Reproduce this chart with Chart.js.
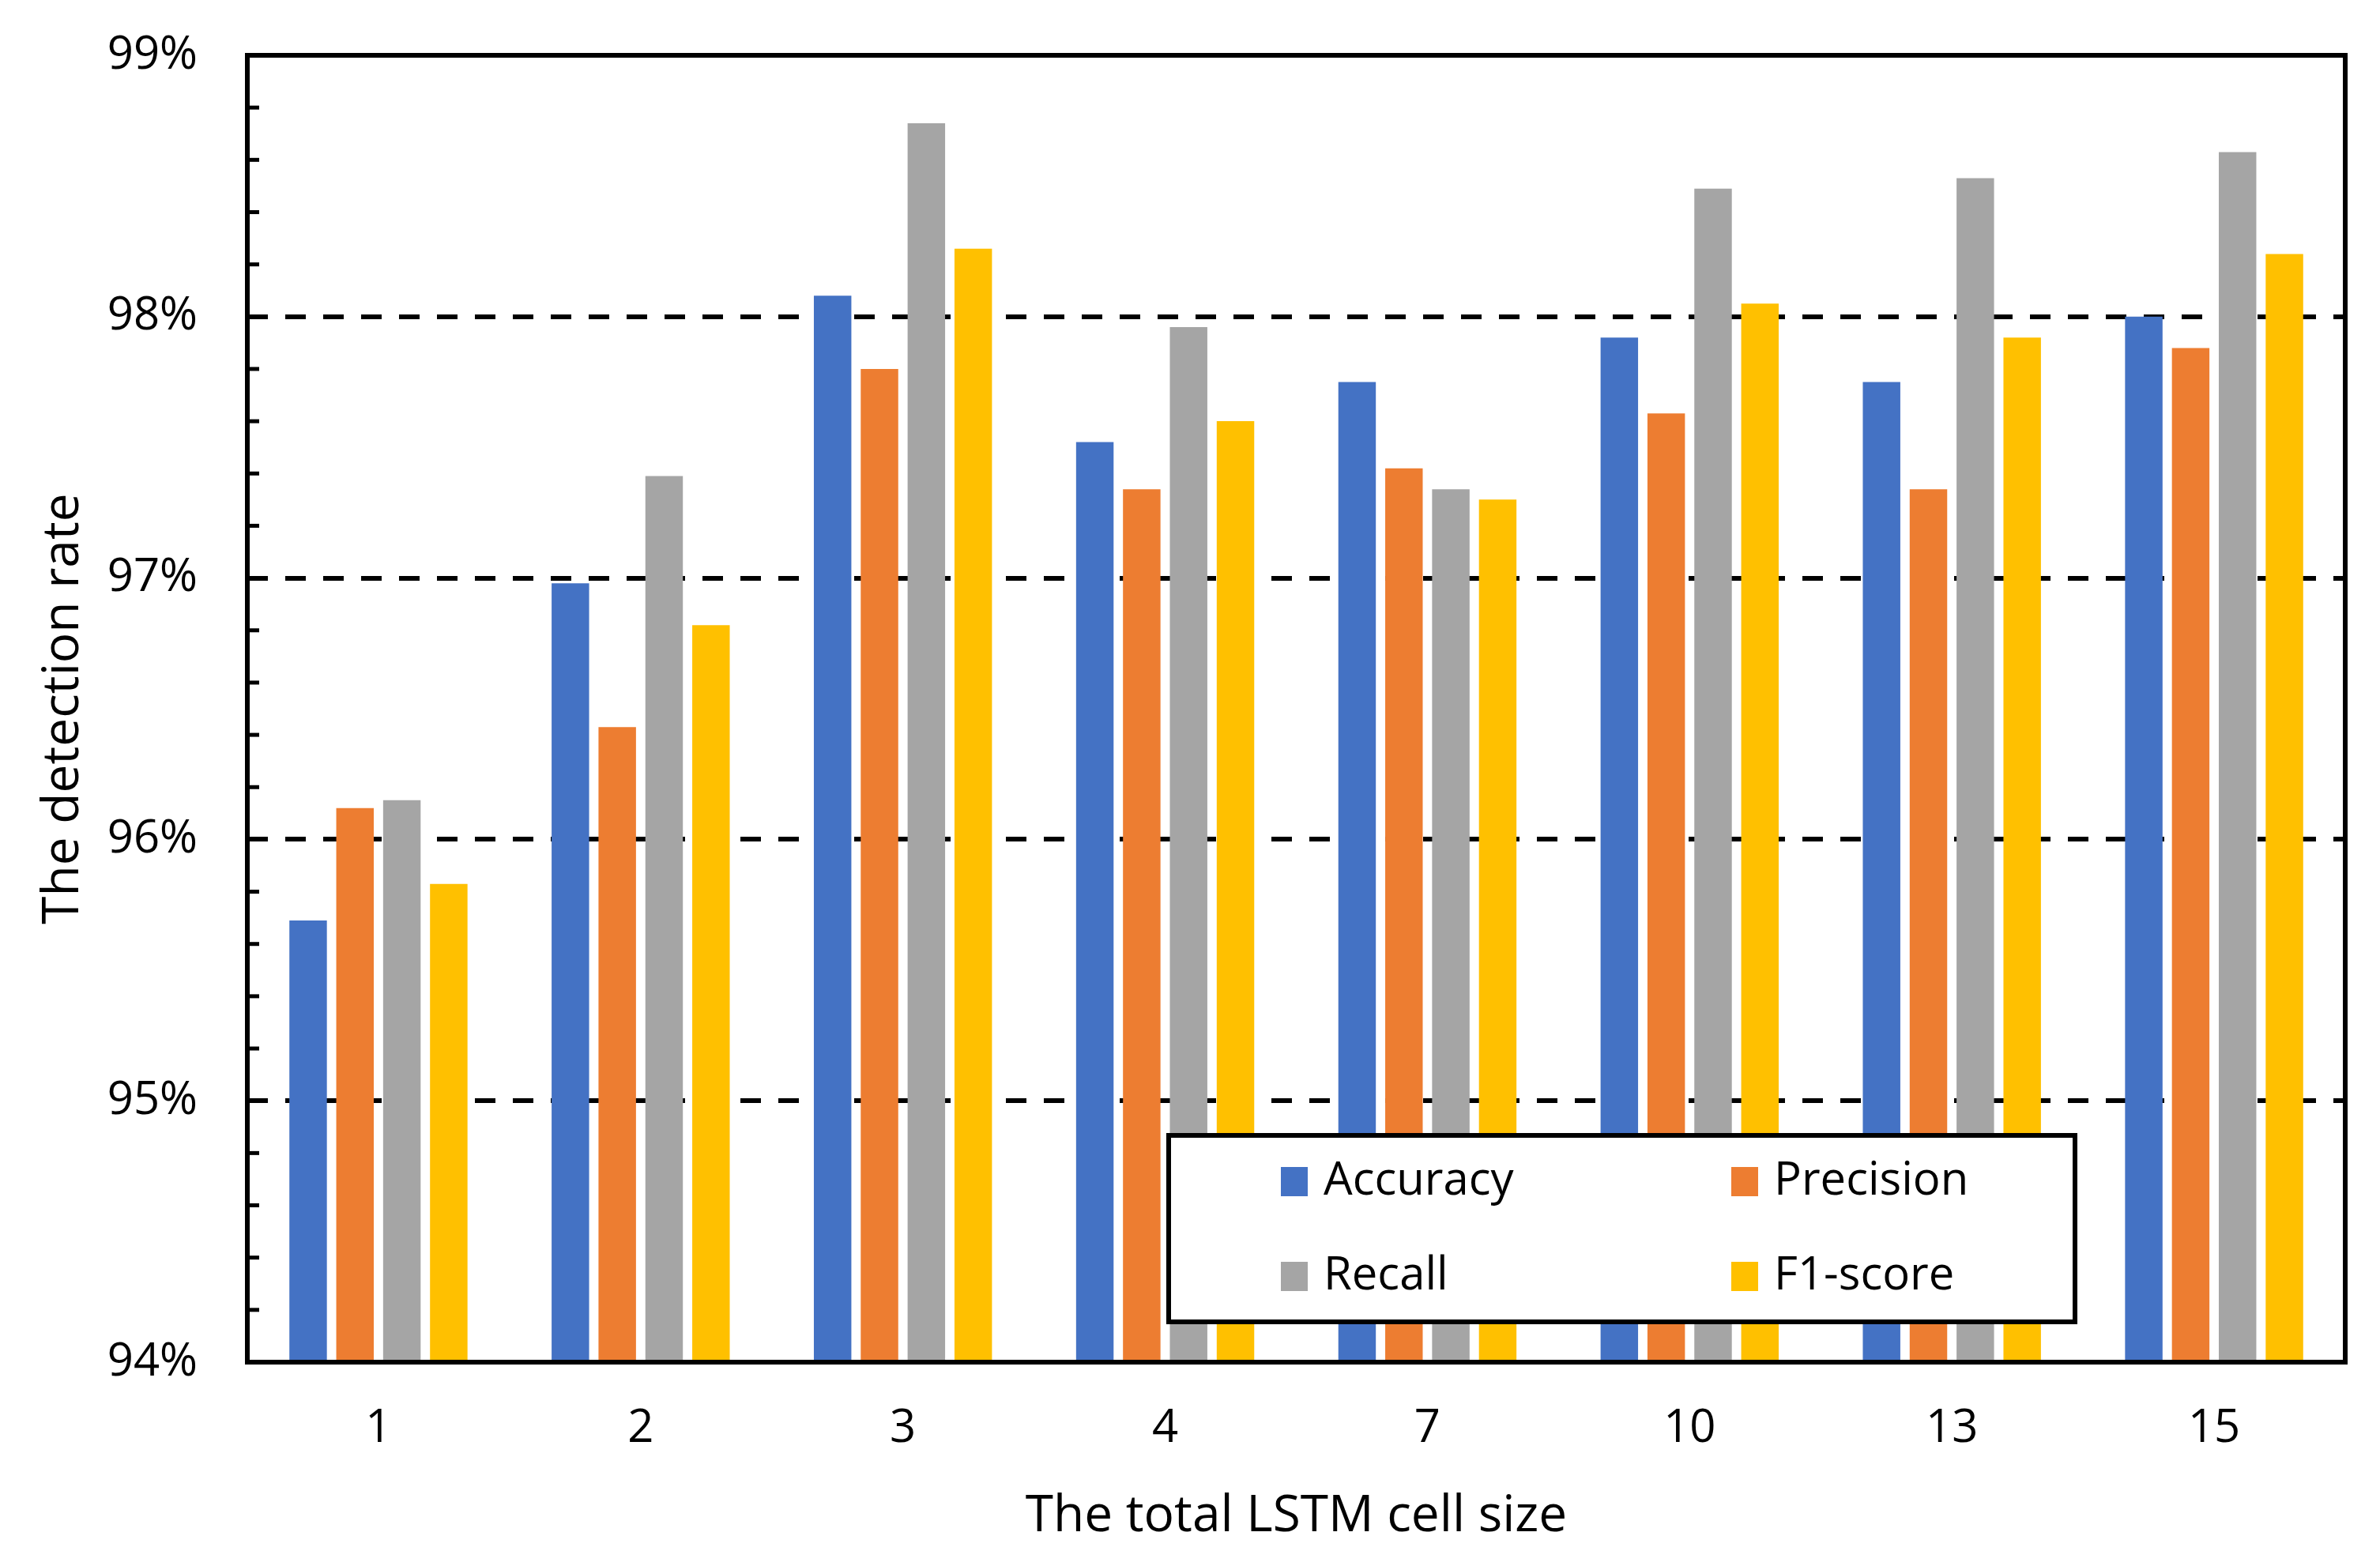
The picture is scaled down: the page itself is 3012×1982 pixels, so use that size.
<!DOCTYPE html>
<html>
<head>
<meta charset="utf-8">
<script src="https://cdn.jsdelivr.net/npm/chart.js@4"></script>
<style>
  body { margin: 0; background: #fff; }
  canvas { display: block; }
</style>
</head>
<body>
<canvas id="rateChart" width="3012" height="1982" style="width:3012px;height:1982px"></canvas>
<script>
// x axis
const cellSizes = ['1', '2', '3', '4', '7', '10', '13', '15'];

// values in %
const accuracy  = [95.69, 96.98, 98.08, 97.52, 97.75, 97.92, 97.75, 98.00];
const precision = [96.12, 96.43, 97.80, 97.34, 97.42, 97.63, 97.34, 97.88];
const recall    = [96.15, 97.39, 98.74, 97.96, 97.34, 98.49, 98.53, 98.63];
const f1score   = [95.83, 96.82, 98.26, 97.60, 97.30, 98.05, 97.92, 98.24];

// y axis
const yMin = 94;
const yMax = 99;
const yMinorStep = 0.2;
const yGridLines = [95, 96, 97, 98];

const FONT = "'Open Sans', 'Noto Sans', sans-serif";

const isWhole = v => Math.abs(v - Math.round(v)) < 1e-6;

// frame, inner minor ticks and the boxed legend
const framePlugin = {
  id: 'frame',
  afterDraw(chart) {
    const ctx = chart.ctx;
    const a = chart.chartArea;
    const y = chart.scales.y;
    ctx.save();
    ctx.strokeStyle = '#000';
    ctx.lineWidth = 5;
    y.ticks.forEach(t => {
      const py = y.getPixelForValue(t.value);
      ctx.beginPath();
      ctx.moveTo(a.left, py);
      ctx.lineTo(a.left + 15, py);
      ctx.stroke();
    });
    ctx.lineWidth = 6;
    ctx.strokeRect(a.left, a.top, a.right - a.left, a.bottom - a.top);

    // legend
    const box = { x: 1479, y: 1437, w: 1147, h: 236 };
    ctx.fillStyle = '#fff';
    ctx.fillRect(box.x, box.y, box.w, box.h);
    ctx.lineWidth = 6;
    ctx.strokeRect(box.x, box.y, box.w, box.h);
    ctx.font = '58px ' + FONT;
    ctx.textBaseline = 'middle';
    ctx.textAlign = 'left';
    const cols = [1621, 2191];
    const rows = [1495, 1615];
    chart.data.datasets.forEach((ds, i) => {
      const cx = cols[i % 2];
      const cy = rows[Math.floor(i / 2)];
      ctx.fillStyle = ds.backgroundColor;
      ctx.fillRect(cx, cy - 18, 34, 37);
      ctx.fillStyle = '#000';
      ctx.fillText(ds.label, cx + 54, cy);
    });
    ctx.restore();
  }
};

const barOpts = { categoryPercentage: 0.715, barPercentage: 0.8, borderWidth: 0 };

const config = {
  type: 'bar',
  data: {
    labels: cellSizes,
    datasets: [
      { label: 'Accuracy',  data: accuracy,  backgroundColor: '#4472C4', ...barOpts },
      { label: 'Precision', data: precision, backgroundColor: '#ED7D31', ...barOpts },
      { label: 'Recall',    data: recall,    backgroundColor: '#A5A5A5', ...barOpts },
      { label: 'F1-score',  data: f1score,   backgroundColor: '#FFC000', ...barOpts }
    ]
  },
  options: {
    responsive: false,
    animation: false,
    devicePixelRatio: 1,
    layout: { padding: { top: 70, right: 44, left: 0, bottom: 0 } },
    plugins: {
      legend: { display: false },
      tooltip: { enabled: false }
    },
    scales: {
      x: {
        grid: { display: false, drawTicks: false },
        border: { display: false },
        ticks: {
          color: '#000',
          padding: 50,
          font: { family: FONT, size: 58 }
        },
        title: {
          display: true,
          text: 'The total LSTM cell size',
          color: '#000',
          padding: { top: 0, bottom: 24 },
          font: { family: FONT, size: 64 }
        },
        afterFit(scale) { scale.height = 1982 - 1724; }
      },
      y: {
        min: yMin,
        max: yMax,
        grid: {
          drawTicks: false,
          lineWidth: 6,
          color: ctx => (ctx.tick && yGridLines.some(g => Math.abs(g - ctx.tick.value) < 1e-6)) ? '#000' : 'rgba(0,0,0,0)'
        },
        border: { display: false, dash: [26, 22] },
        ticks: {
          stepSize: yMinorStep,
          autoSkip: false,
          color: '#000',
          padding: 63,
          font: { family: FONT, size: 58 },
          callback: v => isWhole(v) ? Math.round(v) + '%' : ''
        },
        title: {
          display: true,
          text: 'The detection rate',
          color: '#000',
          padding: { top: 42, bottom: 0 },
          font: { family: FONT, size: 64 }
        },
        afterFit(scale) {
          scale.width = 313;
          scale.paddingTop = 0;
          scale.paddingBottom = 0;
        }
      }
    }
  },
  plugins: [framePlugin]
};

const rateChart = new Chart(document.getElementById('rateChart').getContext('2d'), config);
</script>
</body>
</html>
